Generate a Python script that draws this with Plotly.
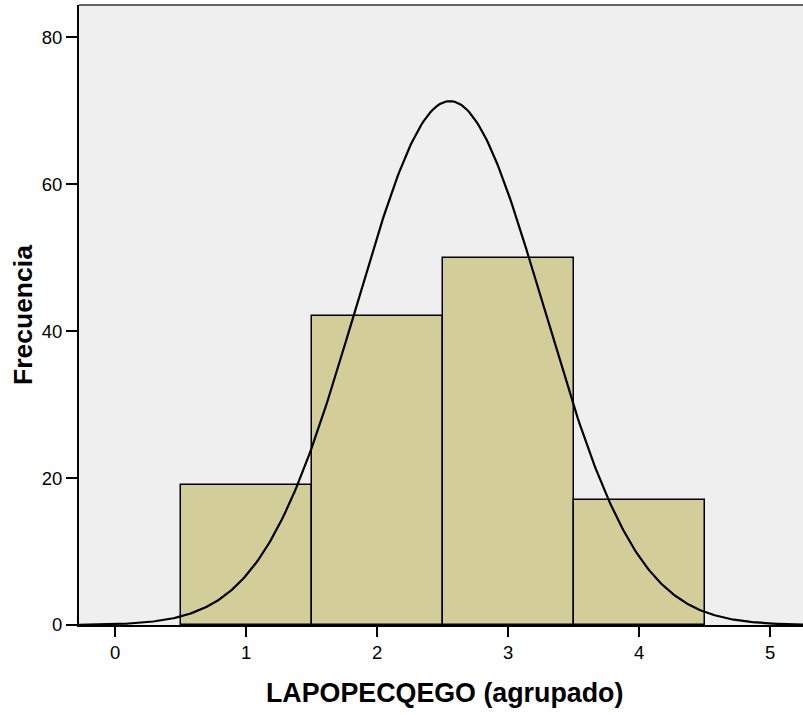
import numpy as np
import plotly.graph_objects as go

# Data
categories = [1, 2, 3, 4]
frequencies = [19, 42, 50, 17]
x_tick_vals = [0, 1, 2, 3, 4, 5]
y_tick_vals = [0, 20, 40, 60, 80]
x_title = "LAPOPECQEGO (agrupado)"
y_title = "Frecuencia"

# Normal curve parameters (fitted overlay)
curve_n = 128
curve_mean = 2.555
curve_sd = 0.716
bin_width = 1.0

xs = np.linspace(-0.3, 5.3, 400)
ys = curve_n * bin_width / (curve_sd * np.sqrt(2 * np.pi)) * np.exp(-0.5 * ((xs - curve_mean) / curve_sd) ** 2)

fig = go.Figure()
fig.add_trace(go.Bar(
    x=categories, y=frequencies, width=1.0,
    marker=dict(color="#d3ce99", line=dict(color="black", width=1.5)),
    showlegend=False, hoverinfo="skip",
))
fig.add_trace(go.Scatter(
    x=xs, y=ys, mode="lines",
    line=dict(color="black", width=2.2),
    showlegend=False, hoverinfo="skip",
))

fig.update_layout(
    width=803, height=715,
    margin=dict(l=79, r=0, t=5, b=90),
    paper_bgcolor="white",
    plot_bgcolor="#efefef",
    font=dict(family="Liberation Sans, Arial, sans-serif", color="black", size=18.5),
    bargap=0,
)
fig.update_xaxes(
    range=[-0.275, 5.25],
    tickvals=x_tick_vals,
    ticks="outside", ticklen=10, tickwidth=2, tickcolor="black",
    showline=True, linecolor="black", linewidth=2, mirror=False,
    showgrid=False, zeroline=False, automargin=False,
)
fig.update_yaxes(
    range=[0, 84.4],
    tickvals=y_tick_vals,
    ticks="outside", ticklen=11, tickwidth=2, tickcolor="black",
    showline=True, linecolor="black", linewidth=2,
    showgrid=False, zeroline=False, automargin=False,
)
# axis titles as annotations for precise placement
fig.add_annotation(text=f"<b>{x_title}</b>", xref="paper", yref="paper",
                   x=0.5055, y=-0.1097, xanchor="center", yanchor="middle",
                   showarrow=False, font=dict(size=26.8))
fig.add_annotation(text=f"<b>{y_title}</b>", xref="paper", yref="paper",
                   x=-0.0773, y=0.5, xanchor="center", yanchor="middle",
                   textangle=-90, showarrow=False, font=dict(size=26.5))
# top border
fig.add_shape(type="line", xref="paper", yref="paper", x0=0, x1=1, y0=1, y1=1,
              line=dict(color="#333333", width=1.5))

fig.write_html(
    "out.html",
    config={"displayModeBar": False},
    post_script="document.body.style.margin='0px'; document.body.style.overflow='hidden';",
)
